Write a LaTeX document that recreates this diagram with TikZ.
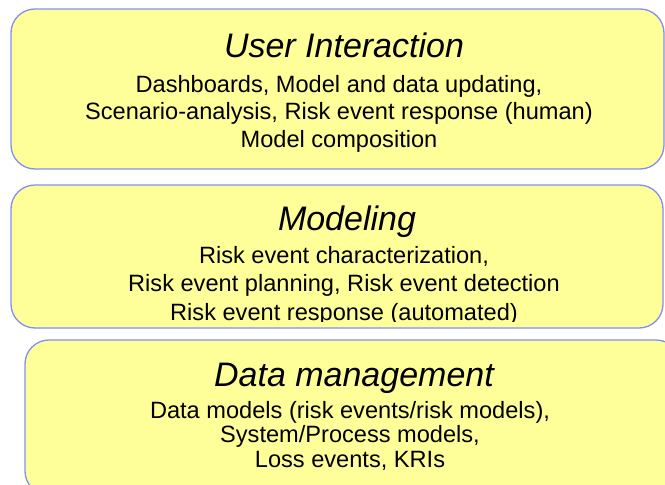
\documentclass[tikz,border=0pt]{standalone}
\usepackage{fontspec}
\setmainfont{Liberation Sans}
\definecolor{panelfill}{RGB}{255,255,153}
\definecolor{panelline}{RGB}{128,144,240}
\tikzset{
  panel/.style={draw=panelline, fill=panelfill, line width=1.3pt, rounded corners=24pt, inner sep=0pt},
  title/.style={anchor=base, inner sep=0pt, font=\fontsize{34}{40}\selectfont\itshape},
  body/.style={anchor=base, inner sep=0pt, font=\fontsize{23.6}{28}\selectfont}
}
\begin{document}
\begin{tikzpicture}[x=1pt, y=-1pt]
\useasboundingbox (0,0) rectangle (665,485);
\clip (0,0) rectangle (665,485);
\node[panel, minimum width=653pt, minimum height=160pt] (ui) at (337.5,89) {};
\node[panel, minimum width=652pt, minimum height=143pt] (mod) at (337,256.5) {};
\node[panel, minimum width=655pt, minimum height=155pt] (dm) at (352.5,417.5) {};
\node[title] (ui-t) at (344,57) {User Interaction};
\node[body] (ui-1) at (339,92) {Dashboards, Model and data updating,};
\node[body] (ui-2) at (339,119) {Scenario-analysis, Risk event response (human)};
\node[body] (ui-3) at (339,147) {Model composition};
\node[title] (mod-t) at (347,230) {Modeling};
\node[body] (mod-1) at (344,263) {Risk event characterization,};
\node[body] (mod-2) at (344,291) {Risk event planning, Risk event detection};
\begin{scope}
\clip (0,0) rectangle (665,321);
\node[body] (mod-3) at (344,320) {Risk event response (automated)};
\end{scope}
\node[title] (dm-t) at (354,386) {Data management};
\node[body] (dm-1) at (350,418) {Data models (risk events/risk models),};
\node[body] (dm-2) at (350,442) {System/Process models,};
\node[body] (dm-3) at (350,467) {Loss events, KRIs};
\end{tikzpicture}
\end{document}
